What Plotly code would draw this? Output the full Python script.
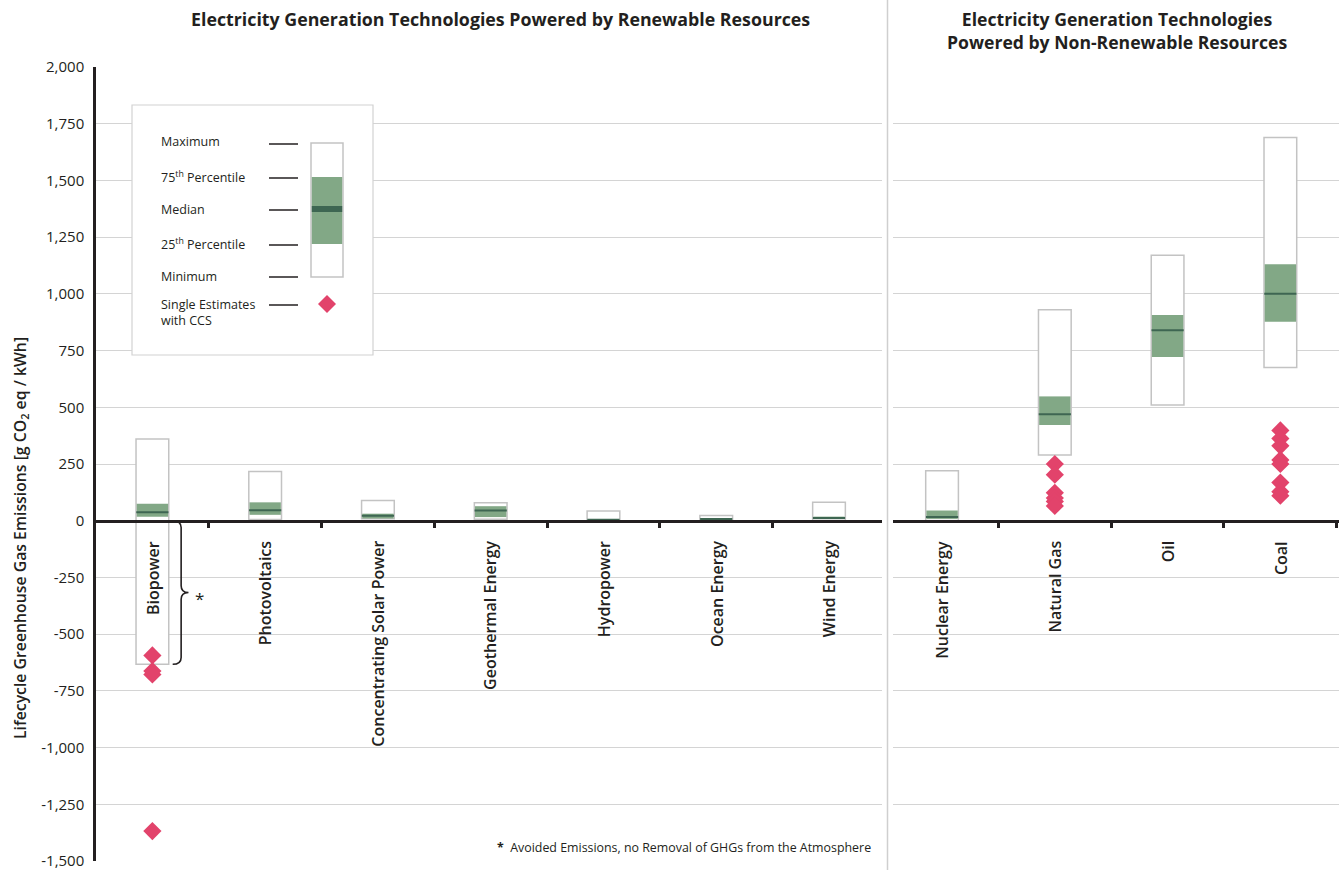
import plotly.graph_objects as go
from plotly.subplots import make_subplots

# Lifecycle GHG emissions, g CO2 eq / kWh
renew_tech = ["Biopower", "Photovoltaics", "Concentrating Solar Power", "Geothermal Energy",
              "Hydropower", "Ocean Energy", "Wind Energy"]
renew_min = [-633, 5, 9, 6, 0, 2, 2]
renew_q1 = [18, 26, 10, 16, 3, 6, 8]
renew_med = [37, 46, 22, 45, 4, 8, 12]
renew_q3 = [75, 81, 31, 64, 7, 9, 18]
renew_max = [360, 217, 89, 79, 43, 23, 81]

nonrenew_tech = ["Nuclear Energy", "Natural Gas", "Oil", "Coal"]
nonrenew_min = [1, 290, 510, 675]
nonrenew_q1 = [8, 422, 722, 877]
nonrenew_med = [16, 469, 840, 1001]
nonrenew_q3 = [45, 548, 907, 1130]
nonrenew_max = [220, 930, 1170, 1689]

# single estimates with CCS
ccs_bio = [-594, -663, -678, -1368]
ccs_gas = [250, 203, 123, 100, 85, 65]
ccs_coal = [398, 362, 330, 268, 250, 168, 128, 110]

y_ticks = [2000, 1750, 1500, 1250, 1000, 750, 500, 250, 0, -250, -500, -750, -1000, -1250, -1500]

TEXT = "#231f20"
GREEN = "#82a886"
MEDIAN = "#3e6652"
OUTLINE = "#c3c3c3"
PINK = "#e2436b"
GRID = "#d4d4d4"
FONT = "Open Sans"

W, H = 1344, 870
ML, MR, MT, MB = 96, 5, 67, 9
PW, PH = W - ML - MR, H - MT - MB


def px(x):
    return (x - ML) / PW


def py(y):
    return (H - MB - y) / PH


fig = make_subplots(rows=1, cols=2, shared_yaxes=False, horizontal_spacing=0)

BW = 0.29


def add_group(col, mins, q1, med, q3, mx):
    xs = list(range(len(mins)))
    fig.add_trace(go.Bar(x=xs, y=[b - a for a, b in zip(mins, mx)], base=mins, width=BW,
                         marker=dict(color="white", line=dict(color=OUTLINE, width=1.5)),
                         showlegend=False, hoverinfo="skip"), row=1, col=col)
    fig.add_trace(go.Bar(x=xs, y=[b - a for a, b in zip(q1, q3)], base=q1, width=BW - 0.012,
                         marker=dict(color=GREEN, line=dict(width=0)),
                         showlegend=False, hoverinfo="skip"), row=1, col=col)
    fig.add_trace(go.Scatter(x=xs, y=med, mode="markers",
                             marker=dict(symbol="line-ew", size=23, color=MEDIAN,
                                         line=dict(color=MEDIAN, width=2)),
                             showlegend=False, hoverinfo="skip"), row=1, col=col)


add_group(1, renew_min, renew_q1, renew_med, renew_q3, renew_max)
add_group(2, nonrenew_min, nonrenew_q1, nonrenew_med, nonrenew_q3, nonrenew_max)

diamond = dict(symbol="diamond", size=14, color=PINK, line=dict(width=0))
fig.add_trace(go.Scatter(x=[0] * len(ccs_bio), y=ccs_bio, mode="markers", marker=diamond,
                         showlegend=False, hoverinfo="skip"), row=1, col=1)
fig.add_trace(go.Scatter(x=[1] * len(ccs_gas), y=ccs_gas, mode="markers", marker=diamond,
                         showlegend=False, hoverinfo="skip"), row=1, col=2)
fig.add_trace(go.Scatter(x=[3] * len(ccs_coal), y=ccs_coal, mode="markers", marker=diamond,
                         showlegend=False, hoverinfo="skip"), row=1, col=2)

zero_pos = 1500 / 3500
common_x = dict(showgrid=False, zeroline=False, showline=True, linecolor=TEXT, linewidth=2.5,
                ticks="outside", ticklen=6, tickwidth=2.5, tickcolor=TEXT, automargin=False,
                showticklabels=False, anchor="free", position=zero_pos, fixedrange=True)
fig.update_layout(
    xaxis=dict(domain=[0, px(882)], range=[-0.5, 6.47],
               tickvals=[0.5, 1.5, 2.5, 3.5, 4.5, 5.5], **common_x),
    xaxis2=dict(domain=[px(893), 1], range=[-0.435, 3.52],
                tickvals=[0.5, 1.5, 2.5, 3.5], **common_x),
    yaxis=dict(range=[-1500, 2000], tickvals=y_ticks, automargin=False,
               ticktext=[f"{v:,}" for v in y_ticks], showgrid=True, gridcolor=GRID, gridwidth=1,
               zeroline=False, showline=True, linecolor=TEXT, linewidth=2.5, ticks="",
               ticklabelstandoff=6, ticklabeloverflow="allow",
               tickfont=dict(family=FONT, size=15, color=TEXT)),
    yaxis2=dict(range=[-1500, 2000], tickvals=y_ticks, showticklabels=False, showgrid=True,
                gridcolor=GRID, gridwidth=1, zeroline=False, showline=False, ticks="",
                automargin=False, matches="y"),
    barmode="overlay",
    width=W, height=H,
    margin=dict(l=ML, r=MR, t=MT, b=MB, autoexpand=False),
    paper_bgcolor="white", plot_bgcolor="white",
    font=dict(family=FONT, color=TEXT),
    showlegend=False,
)

annotations = []
shapes = []

# category labels hanging below the zero line
for i, name in enumerate(renew_tech):
    annotations.append(dict(x=i, y=0, xref="x", yref="y", text=name, textangle=-90,
                            showarrow=False, xanchor="center", yanchor="top", yshift=-18,
                            font=dict(family=FONT, size=16, color=TEXT, weight=600)))
for i, name in enumerate(nonrenew_tech):
    annotations.append(dict(x=i, y=0, xref="x2", yref="y", text=name, textangle=-90,
                            showarrow=False, xanchor="center", yanchor="top", yshift=-18,
                            font=dict(family=FONT, size=16, color=TEXT, weight=600)))

# panel titles
annotations.append(dict(x=px(500), y=py(19), xref="paper", yref="paper", showarrow=False,
                        xanchor="center", yanchor="middle",
                        text="Electricity Generation Technologies Powered by Renewable Resources",
                        font=dict(family=FONT, size=17.8, color=TEXT, weight=700)))
annotations.append(dict(x=px(1117), y=py(31), xref="paper", yref="paper", showarrow=False,
                        xanchor="center", yanchor="middle",
                        text="Electricity Generation Technologies<br>Powered by Non-Renewable Resources",
                        font=dict(family=FONT, size=17.6, color=TEXT, weight=700)))

# y axis title
annotations.append(dict(x=px(20), y=py(538), xref="paper", yref="paper", showarrow=False,
                        xanchor="center", yanchor="middle", textangle=-90,
                        text="Lifecycle Greenhouse Gas Emissions [g CO<sub>2</sub> eq / kWh]",
                        font=dict(family=FONT, size=15.8, color=TEXT, weight=600)))

# footnote
annotations.append(dict(x=px(873), y=py(847), xref="paper", yref="paper", showarrow=False,
                        xanchor="right", yanchor="middle",
                        text="<b>*</b>  Avoided Emissions, no Removal of GHGs from the Atmosphere",
                        font=dict(family=FONT, size=12.4, color=TEXT)))

# brace marking the avoided-emissions part of the biopower range
bmin = renew_min[0]
bmid = bmin / 2
xa, xb, xc = 0.18, 0.255, 0.32
shapes.append(dict(type="path", xref="x", yref="y", layer="above",
                   path=(f"M {xa},0 Q {xb},0 {xb},-30 L {xb},{bmid + 30} "
                         f"Q {xb},{bmid} {xc},{bmid} Q {xb},{bmid} {xb},{bmid - 30} "
                         f"L {xb},{bmin + 30} Q {xb},{bmin} {xa},{bmin}"),
                   line=dict(color=TEXT, width=1.6)))
annotations.append(dict(x=0.42, y=bmid - 25, xref="x", yref="y", text="*", showarrow=False,
                        font=dict(family=FONT, size=17, color=TEXT)))

# separator between panels
shapes.append(dict(type="line", xref="paper", yref="paper", x0=px(887.5), x1=px(887.5),
                   y0=py(872), y1=py(-2), line=dict(color="#cfcfcf", width=1.5)))

# key box
shapes.append(dict(type="rect", xref="paper", yref="paper", layer="above",
                   x0=px(132), x1=px(373), y0=py(355), y1=py(105),
                   fillcolor="white", line=dict(color="#d2d2d2", width=1.2)))
shapes.append(dict(type="rect", xref="paper", yref="paper", layer="above",
                   x0=px(311), x1=px(343), y0=py(277), y1=py(143),
                   fillcolor="white", line=dict(color=OUTLINE, width=1.5)))
shapes.append(dict(type="rect", xref="paper", yref="paper", layer="above",
                   x0=px(311.8), x1=px(342.2), y0=py(244), y1=py(177),
                   fillcolor=GREEN, line=dict(width=0)))
shapes.append(dict(type="rect", xref="paper", yref="paper", layer="above",
                   x0=px(311.8), x1=px(342.2), y0=py(212), y1=py(206),
                   fillcolor=MEDIAN, line=dict(width=0)))
cx, cy, r = 327, 304, 9
shapes.append(dict(type="path", xref="paper", yref="paper", layer="above",
                   path=(f"M {px(cx)},{py(cy - r)} L {px(cx + r)},{py(cy)} "
                         f"L {px(cx)},{py(cy + r)} L {px(cx - r)},{py(cy)} Z"),
                   fillcolor=PINK, line=dict(width=0)))

key_rows = [("Maximum", 141, 144), ("75<sup>th</sup> Percentile", 177, 178),
            ("Median", 210, 210), ("25<sup>th</sup> Percentile", 244, 245),
            ("Minimum", 276, 277), ("Single Estimates<br>with CCS", 312, 305)]
for label, ty, ly in key_rows:
    annotations.append(dict(x=px(159), y=py(ty), xref="paper", yref="paper", text=label,
                            showarrow=False, xanchor="left", yanchor="middle", align="left",
                            font=dict(family=FONT, size=12.5, color=TEXT)))
    shapes.append(dict(type="line", xref="paper", yref="paper", layer="above",
                       x0=px(269), x1=px(298), y0=py(ly), y1=py(ly),
                       line=dict(color=TEXT, width=1.5)))

fig.update_layout(annotations=annotations, shapes=shapes)

fig.write_html("out.html")
